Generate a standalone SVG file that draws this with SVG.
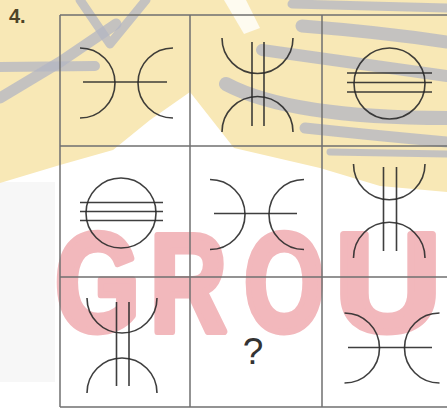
<svg xmlns="http://www.w3.org/2000/svg" width="447" height="409" viewBox="0 0 447 409">
<style>
.fig{fill:none;stroke:#2a2a2a;stroke-width:1.6;stroke-opacity:0.9}
.grid{stroke:#6f6f6f;stroke-width:1.5}
.band{fill:none;stroke:#b3b5c3;stroke-opacity:0.75;stroke-linecap:round;stroke-linejoin:round}
.wm{fill:#f2b8bc;stroke:#f2b8bc;stroke-width:7;stroke-linejoin:round;font-family:"Liberation Sans",Arial,sans-serif;font-weight:700;font-size:140px}
</style>
<rect width="447" height="409" fill="#ffffff"/>
<g id="watermark">
<rect x="0" y="182" width="55" height="200" fill="#f7f7f7"/>
<polygon fill="#f8e8b6" points="0,0 447,0 447,192 380,186 320,168 234,148 190,92 150,120 113,150 60,165 0,183"/>
<polygon fill="#ffffff" fill-opacity="0.8" points="224,0 246,0 260,28 244,34"/>
<path class="band" stroke-width="10" d="M0,67 L95,66"/>
<path class="band" stroke-width="11" d="M0,98 L60,62 L116,24"/>
<path class="band" stroke-width="9" d="M80,0 L110,44 L146,0"/>
<path class="band" stroke-width="9" d="M292,4 L447,8"/>
<path class="band" stroke-width="13" d="M302,26 Q380,32 447,42"/>
<path class="band" stroke-width="12" d="M262,50 Q360,64 447,76"/>
<path class="band" stroke-width="14" d="M226,84 Q290,118 447,118"/>
<path class="band" stroke-width="11" d="M305,128 Q380,136 447,142"/>
<path class="band" stroke-width="7" d="M330,152 L447,154"/>
<text class="wm" transform="translate(55,331) scale(0.78,1)">G</text>
<text class="wm" transform="translate(150,331) scale(0.76,1)">R</text>
<text class="wm" transform="translate(244,331) scale(0.74,1)">O</text>
<text class="wm" transform="translate(335,331) scale(1.05,1)">U</text>
</g>
<g id="connectors">
<line class="grid" x1="60" y1="15" x2="447" y2="15"/>
<line class="grid" x1="60" y1="146" x2="447" y2="146"/>
<line class="grid" x1="60" y1="277" x2="447" y2="277"/>
<line class="grid" x1="60" y1="407" x2="447" y2="407"/>
<line class="grid" x1="60" y1="15" x2="60" y2="407"/>
<line class="grid" x1="190" y1="15" x2="190" y2="407"/>
<line class="grid" x1="322" y1="15" x2="322" y2="407"/>
</g>
<g id="label"><text x="9" y="23" font-family="Liberation Sans,Arial,sans-serif" font-weight="bold" font-size="20" fill="#4d4428">4.</text></g>
<g id="c00" class="fig">
<path d="M80,48 A35,35 0 0 1 80,118"/>
<path d="M173,48 A35,35 0 0 0 173,118"/>
<path d="M83,82 H167"/>
</g>
<g id="c01" class="fig">
<path d="M222,38 A35.5,35.5 0 0 0 293,38"/>
<path d="M222,132 A35.5,35.5 0 0 1 293,132"/>
<path d="M252,42 V126 M264,42 V126"/>
</g>
<g id="c02" class="fig">
<circle cx="389.5" cy="83.5" r="35.5"/>
<path d="M347,73 H432 M347,82.5 H432 M347,92 H432"/>
</g>
<g id="c10" class="fig">
<circle cx="121" cy="213" r="35"/>
<path d="M80,202.5 H163 M80,211.5 H163 M80,220.5 H163"/>
</g>
<g id="c11" class="fig">
<path d="M210,179.5 A35,35 0 0 1 210,249.5"/>
<path d="M304,179.5 A35,35 0 0 0 304,249.5"/>
<path d="M214,213.5 H297"/>
</g>
<g id="c12" class="fig">
<path d="M353.5,164 A35.75,35.75 0 0 0 425,164"/>
<path d="M353.5,258 A35.75,35.75 0 0 1 425,258"/>
<path d="M383.5,167 V251 M396.5,167 V251"/>
</g>
<g id="c20" class="fig">
<path d="M87,298 A35,35 0 0 0 157,298"/>
<path d="M87,393 A35,35 0 0 1 157,393"/>
<path d="M116.5,302 V386 M129,302 V386"/>
</g>
<g id="c21"><text x="253" y="364" text-anchor="middle" font-family="Liberation Sans,Arial,sans-serif" font-size="37" fill="#333333">?</text></g>
<g id="c22" class="fig">
<path d="M344.5,313 A35,35 0 0 1 344.5,383"/>
<path d="M439.5,313 A35,35 0 0 0 439.5,383"/>
<path d="M348,347.5 H432"/>
</g>
</svg>
